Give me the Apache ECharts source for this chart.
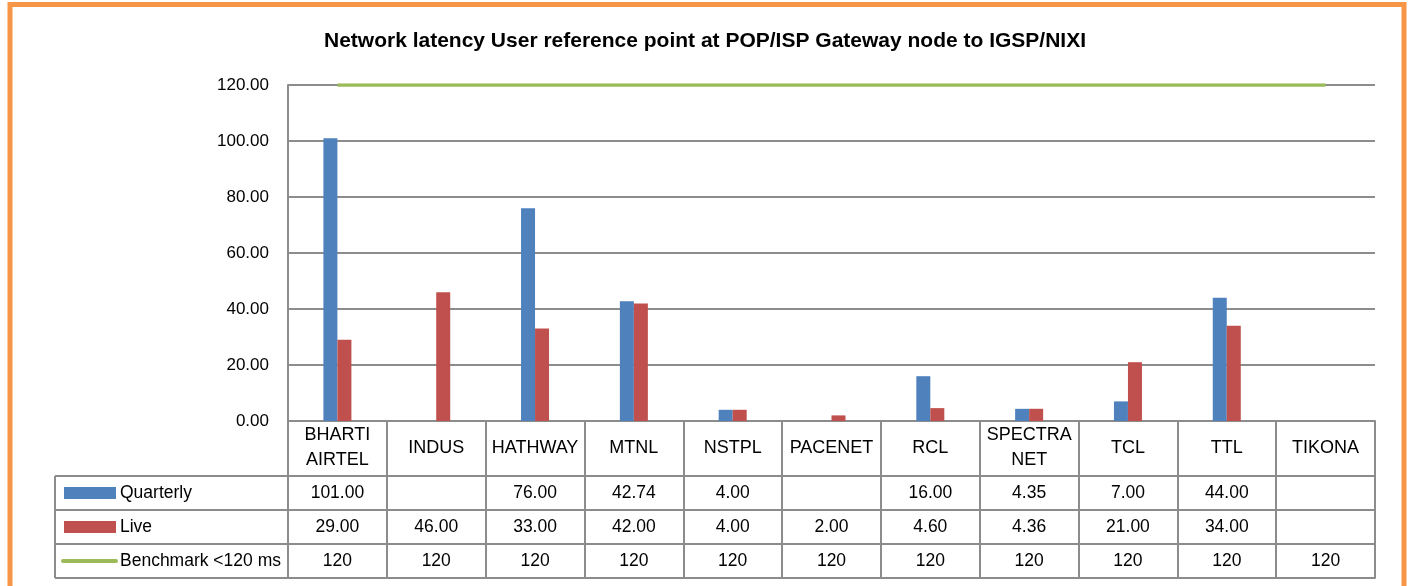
<!DOCTYPE html>
<html>
<head>
<meta charset="utf-8">
<script src="https://cdn.jsdelivr.net/npm/echarts@6/dist/echarts.min.js"></script>
<style>
    html, body {margin: 0; padding: 0; background: #fff;}
    #chart {width: 1410px; height: 586px;}
</style>
</head>
<body>
<div id="chart"></div>
<script>
    "use strict";
    var categories = ['BHARTI\nAIRTEL', 'INDUS', 'HATHWAY', 'MTNL', 'NSTPL', 'PACENET', 'RCL', 'SPECTRA\nNET', 'TCL', 'TTL', 'TIKONA'];
    var quarterly = [101.00, null, 76.00, 42.74, 4.00, null, 16.00, 4.35, 7.00, 44.00, null];
    var live = [29.00, 46.00, 33.00, 42.00, 4.00, 2.00, 4.60, 4.36, 21.00, 34.00, null];
    var benchmark = [120, 120, 120, 120, 120, 120, 120, 120, 120, 120, 120];
    var seriesNames = ['Quarterly', 'Live', 'Benchmark <120 ms'];
    var yMin = 0, yMax = 120, yStep = 20;

    var FONT = 'Liberation Sans, Arial, sans-serif';
    var LINE = '#8c8c8c';
    var colors = ['#4f81bd', '#c0504d', '#9bbb59'];

    // grid box
    var gLeft = 288, gRight = 1375, gTop = 85, gBottom = 421;
    var headH = 55, rowH = 34, tableLeft = 55;

    function rowAxis(offset, values, digits, showLabel) {
        return {
            type: 'category', position: 'bottom', offset: offset, data: categories,
            axisLine: {show: true, lineStyle: {color: LINE, width: 2}},
            axisTick: {show: false}, splitLine: {show: false},
            axisLabel: {
                show: showLabel, interval: 0, hideOverlap: false, margin: rowH / 2,
                verticalAlign: 'middle', fontSize: 17.5, color: '#000', fontFamily: FONT,
                formatter: function (v, i) {
                    return values[i] == null ? '' : values[i].toFixed(digits);
                }
            }
        };
    }

    var chart = echarts.init(document.getElementById('chart'));

    var graphics = [
        {type: 'rect', shape: {x: 10, y: 4.5, width: 1394, height: 700}, style: {fill: null, stroke: '#f79646', lineWidth: 5}, z: 100}
    ];
    // left column of the data table
    for (var r = 0; r < 4; r++) {
        var yy = gBottom + headH + r * rowH;
        graphics.push({type: 'line', shape: {x1: tableLeft, y1: yy, x2: gLeft, y2: yy}, style: {stroke: LINE, lineWidth: 2}});
    }
    graphics.push({type: 'line', shape: {x1: tableLeft, y1: gBottom + headH, x2: tableLeft, y2: gBottom + headH + 3 * rowH}, style: {stroke: LINE, lineWidth: 2}});
    seriesNames.forEach(function (name, i) {
        var cy = gBottom + headH + i * rowH + rowH / 2;
        if (i < 2) {
            graphics.push({type: 'rect', shape: {x: 64, y: cy - 6, width: 52, height: 12}, style: {fill: colors[i]}});
        } else {
            graphics.push({type: 'line', shape: {x1: 63, y1: cy, x2: 116, y2: cy}, style: {stroke: colors[i], lineWidth: 4, lineCap: 'round'}});
        }
        graphics.push({type: 'text', x: 120, y: cy, style: {text: name, fontSize: 17.5, fontFamily: FONT, fill: '#000', verticalAlign: 'middle', align: 'left'}});
    });

    var option = {
        animation: false,
        backgroundColor: '#fff',
        title: {
            text: 'Network latency User reference point at POP/ISP Gateway node to IGSP/NIXI',
            left: 'center', top: 26,
            textStyle: {fontSize: 21, fontWeight: 'bold', color: '#000', fontFamily: FONT}
        },
        grid: {left: gLeft, right: 1410 - gRight, top: gTop, bottom: 586 - gBottom, containLabel: false},
        xAxis: [
            {
                type: 'category', data: categories, position: 'bottom',
                axisLine: {show: true, lineStyle: {color: LINE, width: 2}},
                axisTick: {show: true, interval: 0, length: headH + 3 * rowH, lineStyle: {color: LINE, width: 2}},
                axisLabel: {
                    interval: 0, hideOverlap: false, margin: 27, verticalAlign: 'middle',
                    fontSize: 18, lineHeight: 25, color: '#000', fontFamily: FONT
                }
            },
            rowAxis(headH, quarterly, 2, true),
            rowAxis(headH + rowH, live, 2, true),
            rowAxis(headH + 2 * rowH, benchmark, 0, true),
            rowAxis(headH + 3 * rowH, benchmark, 0, false)
        ],
        yAxis: {
            type: 'value', min: yMin, max: yMax, interval: yStep,
            axisLine: {show: true, lineStyle: {color: LINE, width: 2}},
            axisTick: {show: false},
            splitLine: {show: true, lineStyle: {color: LINE, width: 2}},
            axisLabel: {
                margin: 19, fontSize: 17, color: '#000', fontFamily: FONT,
                formatter: function (v) { return v.toFixed(2); }
            }
        },
        graphic: graphics,
        series: [
            {name: seriesNames[0], type: 'bar', xAxisIndex: 0, data: quarterly, barWidth: 14, barGap: '0%', itemStyle: {color: colors[0]}},
            {name: seriesNames[1], type: 'bar', xAxisIndex: 0, data: live, barWidth: 14, barGap: '0%', itemStyle: {color: colors[1]}},
            {name: seriesNames[2], type: 'line', xAxisIndex: 0, data: benchmark, symbol: 'none', z: 5, lineStyle: {color: colors[2], width: 3.5}, itemStyle: {color: colors[2]}}
        ]
    };
    chart.setOption(option);
</script>
</body>
</html>
